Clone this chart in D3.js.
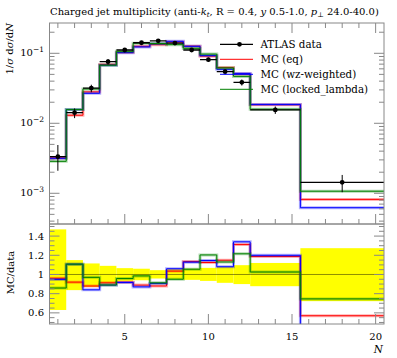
<!DOCTYPE html>
<html><head><meta charset="utf-8">
<script src="https://cdn.jsdelivr.net/npm/d3@7/dist/d3.min.js"></script>
<style>body{margin:0;background:#fff;} text{font-family:"DejaVu Serif",serif;}</style>
</head><body>
<svg id="c" width="397" height="358"></svg>
<script>
// ---- data ----
const binLo = [0.5,1.5,2.5,3.5,4.5,5.5,6.5,7.5,8.5,9.5,10.5,11.5,12.5,15.5];
const binHi = [1.5,2.5,3.5,4.5,5.5,6.5,7.5,8.5,9.5,10.5,11.5,12.5,15.5,20.5];
const binMid = [1,2,3,4,5,6,7,8,9,10,11,12,14,18];
const dataVals = [0.00333,0.01416,0.0319,0.0759,0.1115,0.1416,0.151,0.140,0.1115,0.081,0.0546,0.0385,0.0155,0.001435];
const dataErrUp = [0.47,0.15,0.115,0.09,0.066,0.06,0.045,0.055,0.06,0.069,0.08,0.097,0.12,0.274];
const dataErrDn = [0.37,0.163,0.13,0.094,0.067,0.06,0.042,0.05,0.056,0.067,0.087,0.1,0.122,0.278];
const mcEq = [0.0032,0.01303,0.02807,0.0693,0.1026,0.1259,0.1329,0.1449,0.1266,0.0911,0.0627,0.0505,0.0184,0.000818];
const mcWz = [0.00316,0.01568,0.0268,0.0675,0.1022,0.1233,0.1368,0.1484,0.1258,0.0928,0.0590,0.0516,0.0186,0.000622];
const mcLocked = [0.00286,0.01568,0.03094,0.0676,0.1068,0.1395,0.1379,0.133,0.1176,0.0975,0.0617,0.0468,0.0159,0.00107];
const seriesNames = ["MC (eq)","MC (wz-weighted)","MC (locked_lambda)"];
const seriesColors = ["#ff0000","#0000ff","#008000"];
const xTickLabels = [5,10,15,20];
const yMainTicks = [0.001,0.01,0.1];
const yMainExp = ["−3","−2","−1"];
const yRatioTicks = [0.6,0.8,1.0,1.2,1.4];
const yRatioLabels = ["0.6","0.8","1","1.2","1.4"];

const svg = d3.select("#c");
const L=49.5, R=384, T=23, MB=224, RB=324;
const x = d3.scaleLinear().domain([0.5,20.5]).range([L,R]);
const y = d3.scaleLog().domain([3.64e-4,0.271]).range([MB,T]);
const yr = d3.scaleLinear().domain([0.484,1.526]).range([RB,MB]);

svg.append("defs").html(`<clipPath id="cm"><rect x="${L}" y="${T}" width="${R-L}" height="${MB-T}"/></clipPath><clipPath id="cr"><rect x="${L}" y="${MB}" width="${R-L}" height="${RB-MB}"/></clipPath>`);

const mcs = [mcEq, mcWz, mcLocked];
function stepPts(vals, sc){ const p=[]; vals.forEach((v,i)=>{p.push([x(binLo[i]),sc(v)]);p.push([x(binHi[i]),sc(v)]);}); return p; }
const line = d3.line();

// ---- main plot ----
const gm = svg.append("g").attr("clip-path","url(#cm)");
mcs.forEach((vals,k)=>{
  gm.append("path").attr("d",line(stepPts(vals,y))).attr("fill","none").attr("stroke",seriesColors[k]).attr("stroke-width",3).attr("stroke-opacity",0.3);
  gm.append("path").attr("d",line(stepPts(vals,y))).attr("fill","none").attr("stroke",seriesColors[k]).attr("stroke-width",1);
});
dataVals.forEach((v,i)=>{
  gm.append("line").attr("x1",x(binLo[i])).attr("x2",x(binHi[i])).attr("y1",y(v)).attr("y2",y(v)).attr("stroke","#000").attr("stroke-width",1.3);
  gm.append("line").attr("x1",x(binMid[i])).attr("x2",x(binMid[i])).attr("y1",y(v*(1+dataErrUp[i]))).attr("y2",y(v*(1-dataErrDn[i]))).attr("stroke","#000").attr("stroke-width",1);
  gm.append("circle").attr("cx",x(binMid[i])).attr("cy",y(v)).attr("r",2.4).attr("fill","#000");
});

// ---- ratio plot ----
const gr = svg.append("g").attr("clip-path","url(#cr)");
dataVals.forEach((v,i)=>{
  gr.append("rect").attr("x",x(binLo[i])).attr("width",x(binHi[i])-x(binLo[i])).attr("y",yr(1+dataErrUp[i])).attr("height",yr(1-dataErrDn[i])-yr(1+dataErrUp[i])).attr("fill","#ffff00");
});
gr.append("line").attr("x1",L).attr("x2",R).attr("y1",yr(1)).attr("y2",yr(1)).attr("stroke","#000").attr("stroke-opacity",0.45).attr("stroke-width",1);
mcs.forEach((vals,k)=>{
  const rv = vals.map((v,i)=>v/dataVals[i]);
  gr.append("path").attr("d",line(stepPts(rv,yr))).attr("fill","none").attr("stroke",seriesColors[k]).attr("stroke-width",3).attr("stroke-opacity",0.3);
  gr.append("path").attr("d",line(stepPts(rv,yr))).attr("fill","none").attr("stroke",seriesColors[k]).attr("stroke-width",1);
});

// ---- frames & ticks ----
const fc="#888";
const ax = svg.append("g").attr("stroke",fc).attr("stroke-width",1).attr("fill","none");
ax.append("rect").attr("x",L).attr("y",T).attr("width",R-L).attr("height",MB-T);
ax.append("rect").attr("x",L).attr("y",MB).attr("width",R-L).attr("height",RB-MB);
const xt = d3.range(1,21);
xt.forEach(t=>{
  const len = t%5===0?10:5;
  ax.append("line").attr("x1",x(t)).attr("x2",x(t)).attr("y1",T).attr("y2",T+len);
  ax.append("line").attr("x1",x(t)).attr("x2",x(t)).attr("y1",MB).attr("y2",MB-len);
  ax.append("line").attr("x1",x(t)).attr("x2",x(t)).attr("y1",RB).attr("y2",RB-len);
});
// main y ticks
const [ylo,yhi]=y.domain();
for(let e=-4;e<=0;e++){ for(let m=1;m<=9;m++){ const v=m*Math.pow(10,e); if(v<ylo||v>yhi) continue; const len=m===1?10:5;
  ax.append("line").attr("x1",L).attr("x2",L+len).attr("y1",y(v)).attr("y2",y(v));
  ax.append("line").attr("x1",R).attr("x2",R-len).attr("y1",y(v)).attr("y2",y(v)); } }
// ratio y ticks
for(let i=10;i<=30;i++){ const v=i*0.05; if(v<yr.domain()[0]||v>yr.domain()[1]) continue; const major = i%4===0; const len=major?10:5;
  ax.append("line").attr("x1",L).attr("x2",L+len).attr("y1",yr(v)).attr("y2",yr(v));
  ax.append("line").attr("x1",R).attr("x2",R-len).attr("y1",yr(v)).attr("y2",yr(v)); }

// ---- labels ----
xTickLabels.forEach(t=>svg.append("text").attr("x",x(t)).attr("y",340).attr("text-anchor","middle").attr("font-size",10).text(t));
yMainTicks.forEach((v,i)=>{
  const t=svg.append("text").attr("x",44).attr("y",y(v)+3).attr("text-anchor","end").attr("font-size",10);
  t.append("tspan").text("10");
  t.append("tspan").attr("dy",-4).attr("font-size",7.5).text(yMainExp[i]);
});
yRatioTicks.forEach((v,i)=>svg.append("text").attr("x",44).attr("y",yr(v)+3.5).attr("text-anchor","end").attr("font-size",10).text(yRatioLabels[i]));

svg.append("text").attr("x",50).attr("y",15).attr("font-size",10).html('Charged jet multiplicity (anti-<tspan font-style="italic">k</tspan><tspan font-style="italic" font-size="7" dy="2">t</tspan><tspan dy="-2">, R = 0.4, </tspan><tspan font-style="italic">y</tspan> 0.5-1.0, <tspan font-style="italic">p</tspan><tspan font-size="7" dy="2">⊥</tspan><tspan dy="-2"> 24.0-40.0)</tspan>');
svg.append("text").attr("transform","translate(13,23) rotate(-90)").attr("text-anchor","end").attr("font-size",10).html('1/<tspan font-style="italic">σ</tspan> d<tspan font-style="italic">σ</tspan>/d<tspan font-style="italic">N</tspan>');
svg.append("text").attr("transform","translate(14,272.5) rotate(-90)").attr("text-anchor","middle").attr("font-size",10).text("MC/data");
svg.append("text").attr("x",383).attr("y",353).attr("text-anchor","end").attr("font-size",10.5).attr("font-style","italic").text("N");

// ---- legend ----
const lg = svg.append("g");
const lx0=220, lx1=253, ltx=260.5, ly0=44.3, ldy=15;
lg.append("line").attr("x1",lx0).attr("x2",lx1).attr("y1",ly0).attr("y2",ly0).attr("stroke","#000").attr("stroke-width",1.3);
lg.append("circle").attr("cx",(lx0+lx1)/2+3).attr("cy",ly0).attr("r",2.4).attr("fill","#000");
lg.append("text").attr("x",ltx).attr("y",ly0+3.5).attr("font-size",10.3).text("ATLAS data");
seriesNames.forEach((n,k)=>{
  const yy=ly0+ldy*(k+1);
  lg.append("line").attr("x1",lx0).attr("x2",lx1).attr("y1",yy).attr("y2",yy).attr("stroke",seriesColors[k]).attr("stroke-width",1);
  lg.append("text").attr("x",ltx).attr("y",yy+3.5).attr("font-size",10.3).text(n);
});
</script>
</body></html>
